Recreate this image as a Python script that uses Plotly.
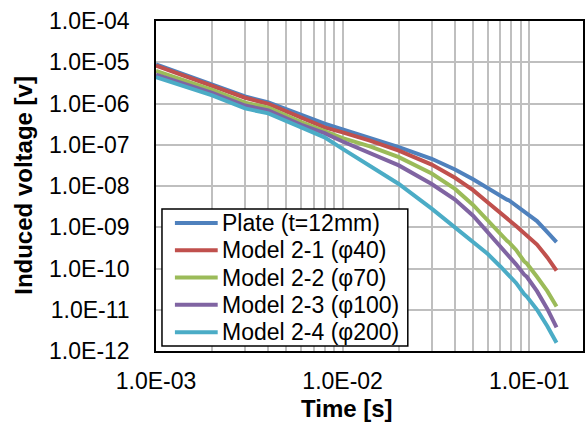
import plotly.graph_objects as go

# Time axis [s]
time_s = [0.001, 0.002, 0.003, 0.004, 0.006, 0.008, 0.01, 0.014, 0.02, 0.03, 0.04,
          0.05, 0.06, 0.07, 0.076, 0.078, 0.085, 0.094, 0.097, 0.11, 0.125, 0.14]

plate = [8.91e-6, 2.95e-6, 1.48e-6, 1.07e-6, 5.25e-7, 3.24e-7, 2.34e-7, 1.45e-7, 8.71e-8, 4.57e-8, 2.51e-8,
         1.45e-8, 8.71e-9, 5.62e-9, 4.68e-9, 4.47e-9, 3.39e-9, 2.34e-9, 2.19e-9, 1.41e-9, 7.59e-10, 4.37e-10]
model_2_1 = [8.32e-6, 2.75e-6, 1.38e-6, 9.77e-7, 4.57e-7, 2.63e-7, 2.00e-7, 1.26e-7, 7.24e-8, 3.31e-8, 1.58e-8,
             7.94e-9, 3.98e-9, 2.14e-9, 1.58e-9, 1.48e-9, 1.07e-9, 7.08e-10, 6.61e-10, 3.80e-10, 1.86e-10, 8.91e-11]
model_2_2 = [6.17e-6, 2.14e-6, 1.05e-6, 7.94e-7, 3.55e-7, 2.14e-7, 1.45e-7, 9.12e-8, 5.01e-8, 2.00e-8, 8.51e-9,
             3.47e-9, 1.41e-9, 6.92e-10, 4.68e-10, 4.27e-10, 2.82e-10, 1.48e-10, 1.32e-10, 6.31e-11, 2.82e-11, 1.20e-11]
model_2_3 = [5.01e-6, 1.82e-6, 8.91e-7, 6.76e-7, 3.02e-7, 1.91e-7, 1.20e-7, 6.31e-8, 3.16e-8, 1.12e-8, 4.68e-9,
             1.91e-9, 7.41e-10, 3.47e-10, 2.24e-10, 2.04e-10, 1.26e-10, 7.08e-11, 6.31e-11, 2.82e-11, 1.05e-11, 3.72e-12]
model_2_4 = [4.37e-6, 1.58e-6, 7.59e-7, 5.75e-7, 2.63e-7, 1.51e-7, 7.94e-8, 3.02e-8, 1.12e-8, 2.82e-9, 1.00e-9,
             4.47e-10, 2.24e-10, 1.12e-10, 7.59e-11, 6.76e-11, 4.47e-11, 2.40e-11, 2.09e-11, 1.00e-11, 3.98e-12, 1.58e-12]

series_names = ["Plate (t=12mm)", "Model 2-1 (φ40)", "Model 2-2 (φ70)", "Model 2-3 (φ100)", "Model 2-4 (φ200)"]
series_values = [plate, model_2_1, model_2_2, model_2_3, model_2_4]
series_colors = ["#4F81BD", "#C0504D", "#9BBB59", "#8064A2", "#4BACC6"]

x_tickvals = [1e-3, 1e-2, 1e-1]
x_ticktext = ["1.0E-03", "1.0E-02", "1.0E-01"]
x_minor = [2e-3, 3e-3, 4e-3, 5e-3, 6e-3, 7e-3, 8e-3, 9e-3,
           2e-2, 3e-2, 4e-2, 5e-2, 6e-2, 7e-2, 8e-2, 9e-2]
y_tickvals = [1e-12, 1e-11, 1e-10, 1e-9, 1e-8, 1e-7, 1e-6, 1e-5, 1e-4]
y_ticktext = ["1.0E-12", "1.0E-11", "1.0E-10", "1.0E-09", "1.0E-08",
              "1.0E-07", "1.0E-06", "1.0E-05", "1.0E-04"]

FONT = "Liberation Sans, Arial, sans-serif"
GRID = "#BFBFBF"
TICK_SIZE = 23
TITLE_SIZE = 24
LEGEND_SIZE = 23

fig = go.Figure()
for name, vals, col in zip(series_names, series_values, series_colors):
    fig.add_trace(go.Scatter(x=time_s, y=vals, mode="lines", name=name,
                             line=dict(color=col, width=4), showlegend=False))

x_range = [-3, -0.712]
y_range = [-12, -4]

# ---- legend drawn as a boxed list (paper coordinates) ----
leg_x0, leg_x1, leg_y0, leg_y1 = 0.014, 0.5897, 0.0152, 0.4303
row_top, row_step = 0.3879, 0.0827
sample_x0, sample_x1, text_x = 0.0443, 0.1445, 0.1492

shapes = [dict(type="rect", xref="paper", yref="paper", x0=leg_x0, x1=leg_x1,
               y0=leg_y0, y1=leg_y1, fillcolor="white",
               line=dict(color="black", width=1.5), layer="above")]
annotations = []
for i, (name, col) in enumerate(zip(series_names, series_colors)):
    yy = row_top - i * row_step
    shapes.append(dict(type="line", xref="paper", yref="paper", x0=sample_x0, x1=sample_x1,
                       y0=yy, y1=yy, line=dict(color=col, width=4), layer="above"))
    annotations.append(dict(text=name, xref="paper", yref="paper", x=text_x, y=yy,
                            xanchor="left", yanchor="middle", showarrow=False,
                            font=dict(family=FONT, size=LEGEND_SIZE, color="black")))

annotations += [
    dict(text="<b>Induced voltage [v]</b>", xref="paper", yref="paper",
         x=-0.312, y=0.503, xanchor="center", yanchor="middle", textangle=-90,
         showarrow=False, font=dict(family=FONT, size=TITLE_SIZE, color="black")),
    dict(text="<b>Time [s]</b>", xref="paper", yref="paper",
         x=0.4476, y=-0.1757, xanchor="center", yanchor="middle",
         showarrow=False, font=dict(family=FONT, size=TITLE_SIZE, color="black")),
]

fig.update_layout(
    width=585, height=426,
    margin=dict(l=156, r=0, t=21, b=75),
    paper_bgcolor="white", plot_bgcolor="white",
    font=dict(family=FONT, size=TICK_SIZE, color="black"),
    showlegend=False,
    xaxis=dict(type="log", range=x_range, tickmode="array",
               tickvals=x_tickvals, ticktext=x_ticktext,
               showgrid=True, gridcolor=GRID, gridwidth=1.5,
               minor=dict(tickmode="array", tickvals=x_minor, showgrid=True,
                          gridcolor=GRID, gridwidth=1.5, ticks=""),
               showline=True, linecolor="black", linewidth=1.5, mirror=True,
               ticks="", ticklabelstandoff=9,
               tickfont=dict(family=FONT, size=TICK_SIZE, color="black"),
               zeroline=False),
    yaxis=dict(type="log", range=y_range, tickmode="array",
               tickvals=y_tickvals, ticktext=y_ticktext,
               showgrid=True, gridcolor=GRID, gridwidth=1.5,
               showline=True, linecolor="black", linewidth=1.5, mirror=True,
               ticks="", ticklabelstandoff=20,
               tickfont=dict(family=FONT, size=TICK_SIZE, color="black"),
               zeroline=False),
    xaxis2=dict(type="log", range=x_range, overlaying="x", side="top",
                tickmode="array", tickvals=[1e-2, 1e-1], ticks="inside",
                ticklen=5, tickwidth=1.5, tickcolor="black",
                showticklabels=False, showgrid=False, showline=False, zeroline=False),
    yaxis2=dict(type="log", range=y_range, overlaying="y", side="right",
                tickmode="array", tickvals=y_tickvals, ticks="inside",
                ticklen=5, tickwidth=1.5, tickcolor="black",
                showticklabels=False, showgrid=False, showline=False, zeroline=False),
    shapes=shapes,
    annotations=annotations,
)

fig.write_html("out.html")
